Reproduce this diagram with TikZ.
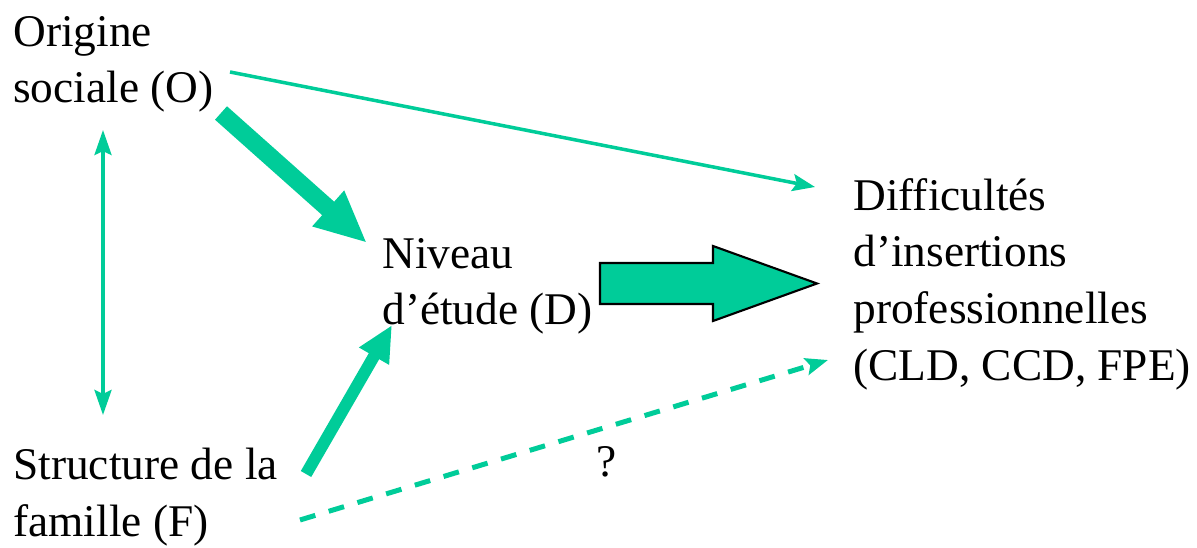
\documentclass[tikz,border=0pt]{standalone}
\usepackage{fontspec}
\setmainfont{Liberation Serif}
\usetikzlibrary{arrows.meta}
\definecolor{vert}{RGB}{0,204,153}
\begin{document}
\begin{tikzpicture}[every node/.style={font=\fontsize{25.8}{32.2}\selectfont},
  lbl/.style={anchor=north west,inner sep=0pt,align=left},
  fin/.style={draw=vert,line width=2pt,-{Stealth[length=0.45cm,width=0.34cm,inset=0.08cm]}},
  gros/.style={draw=vert,line width=#1}]
\useasboundingbox (0,0) rectangle (23.94,10.94);
\node[lbl] (O) at (0.26,10.62) {Origine\\sociale (O)};
\node[lbl] (D) at (7.64,6.18) {Niveau\\d'étude (D)};
\node[lbl] (Diff) at (17.06,7.38) {Difficultés\\d'insertions\\professionnelles\\(CLD, CCD, FPE)};
\node[lbl] (F) at (0.26,1.98) {Structure de la\\famille (F)};
\node (q) at (12.14,1.7) {?};
% bouts des fleches
\coordinate (o-fin) at (4.6,9.5);
\coordinate (diff-fin) at (16.3,7.2);
\coordinate (o-gros) at (4.42,8.68);
\coordinate (d-haut) at (7.34,6.08);
\coordinate (f-gros) at (6.12,1.46);
\coordinate (d-bas) at (7.84,4.44);
\coordinate (o-bas) at (2.06,8.34);
\coordinate (f-haut) at (2.06,2.64);
\coordinate (f-tir) at (6.0,0.54);
\coordinate (diff-tir) at (16.56,3.74);
\coordinate (bloc) at (12.0,5.27);
\draw[fin] (o-fin) -- (diff-fin);
\draw[fin,{Stealth[length=0.5cm,width=0.34cm,inset=0.08cm]}-{Stealth[length=0.5cm,width=0.34cm,inset=0.08cm]}] (o-bas) -- (f-haut);
\draw[gros=0.36cm,-{Triangle[length=1.04cm,width=0.88cm]}] (o-gros) -- (d-haut);
\draw[gros=0.24cm,-{Triangle[length=0.72cm,width=0.64cm]}] (f-gros) -- (d-bas);
\draw[fin,line width=0.1cm,dash pattern=on 0.32cm off 0.28cm] (f-tir) -- (diff-tir);
\draw[black,line width=1.2pt,fill=vert] (bloc) ++(0,0.41) -- ++(2.26,0) -- ++(0,0.34)
  -- ++(2.08,-0.75) -- ++(-2.08,-0.75) -- ++(0,0.34) -- ++(-2.26,0) -- cycle;
\end{tikzpicture}
\end{document}
